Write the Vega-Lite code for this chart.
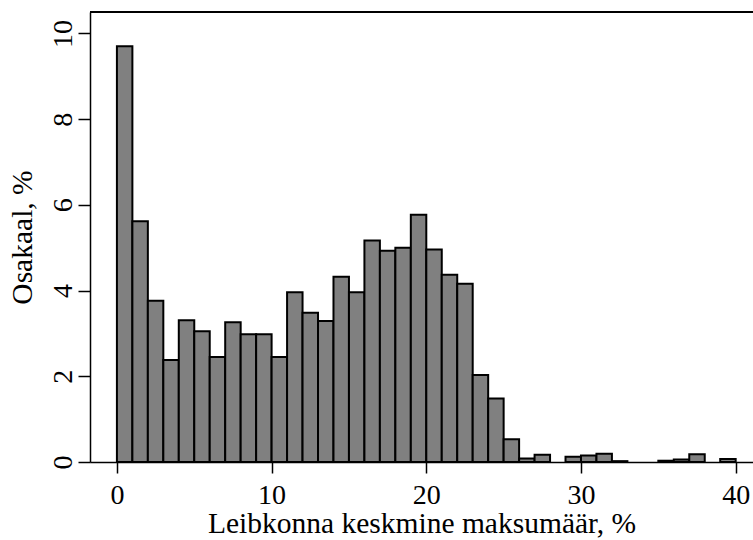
{
  "$schema": "https://vega.github.io/schema/vega-lite/v6.json",
  "autosize": "none",
  "width": 663,
  "height": 450,
  "padding": {"left": 90, "top": 12, "right": 0, "bottom": 78},
  "background": "white",
  "config": {
    "view": {"stroke": null},
    "font": "Liberation Serif",
    "axis": {
      "labelFont": "Liberation Serif",
      "titleFont": "Liberation Serif",
      "labelFontSize": 28,
      "titleFontSize": 29.5,
      "titleFontWeight": "normal",
      "labelColor": "black",
      "titleColor": "black",
      "domainColor": "black",
      "tickColor": "black",
      "domainWidth": 1.5,
      "tickWidth": 1.5,
      "grid": false
    }
  },
  "data": {
    "values": [
      {"lo": 0, "hi": 1, "pct": 9.70},
      {"lo": 1, "hi": 2, "pct": 5.62},
      {"lo": 2, "hi": 3, "pct": 3.76},
      {"lo": 3, "hi": 4, "pct": 2.38},
      {"lo": 4, "hi": 5, "pct": 3.31},
      {"lo": 5, "hi": 6, "pct": 3.05},
      {"lo": 6, "hi": 7, "pct": 2.45},
      {"lo": 7, "hi": 8, "pct": 3.26},
      {"lo": 8, "hi": 9, "pct": 2.98},
      {"lo": 9, "hi": 10, "pct": 2.98},
      {"lo": 10, "hi": 11, "pct": 2.45},
      {"lo": 11, "hi": 12, "pct": 3.96},
      {"lo": 12, "hi": 13, "pct": 3.48},
      {"lo": 13, "hi": 14, "pct": 3.29},
      {"lo": 14, "hi": 15, "pct": 4.32},
      {"lo": 15, "hi": 16, "pct": 3.96},
      {"lo": 16, "hi": 17, "pct": 5.17},
      {"lo": 17, "hi": 18, "pct": 4.93},
      {"lo": 18, "hi": 19, "pct": 5.00},
      {"lo": 19, "hi": 20, "pct": 5.77},
      {"lo": 20, "hi": 21, "pct": 4.96},
      {"lo": 21, "hi": 22, "pct": 4.37},
      {"lo": 22, "hi": 23, "pct": 4.16},
      {"lo": 23, "hi": 24, "pct": 2.03},
      {"lo": 24, "hi": 25, "pct": 1.48},
      {"lo": 25, "hi": 26, "pct": 0.53},
      {"lo": 26, "hi": 27, "pct": 0.08},
      {"lo": 27, "hi": 28, "pct": 0.17},
      {"lo": 29, "hi": 30, "pct": 0.12},
      {"lo": 30, "hi": 31, "pct": 0.15},
      {"lo": 31, "hi": 32, "pct": 0.19},
      {"lo": 32, "hi": 33, "pct": 0.02},
      {"lo": 35, "hi": 36, "pct": 0.03},
      {"lo": 36, "hi": 37, "pct": 0.06},
      {"lo": 37, "hi": 38, "pct": 0.18},
      {"lo": 39, "hi": 40, "pct": 0.07}
    ]
  },
  "layer": [
    {
      "mark": {"type": "bar", "fill": "#808080", "stroke": "black", "strokeWidth": 2, "clip": true},
      "encoding": {
        "x": {
          "field": "lo", "type": "quantitative",
          "scale": {"domain": [-1.74, 41.12], "nice": false, "zero": false},
          "axis": {
            "values": [0, 10, 20, 30, 40],
            "tickSize": 11,
            "labelPadding": 8,
            "labelFlush": false,
            "title": "Leibkonna keskmine maksumäär, %",
            "titlePadding": 0
          }
        },
        "x2": {"field": "hi"},
        "y": {
          "field": "pct", "type": "quantitative",
          "scale": {"domain": [0, 10.5], "nice": false, "padding": 0},
          "axis": {
            "values": [0, 2, 4, 6, 8, 10],
            "tickSize": 12,
            "labelAngle": -90,
            "labelAlign": "center",
            "labelBaseline": "alphabetic",
            "labelPadding": 7,
            "labelFlush": false,
            "title": "Osakaal, %",
            "titlePadding": 12
          }
        },
        "y2": {"datum": 0}
      }
    },
    {
      "mark": {"type": "rule", "color": "black", "strokeWidth": 1.5},
      "encoding": {"y": {"datum": 10.5}}
    }
  ]
}
